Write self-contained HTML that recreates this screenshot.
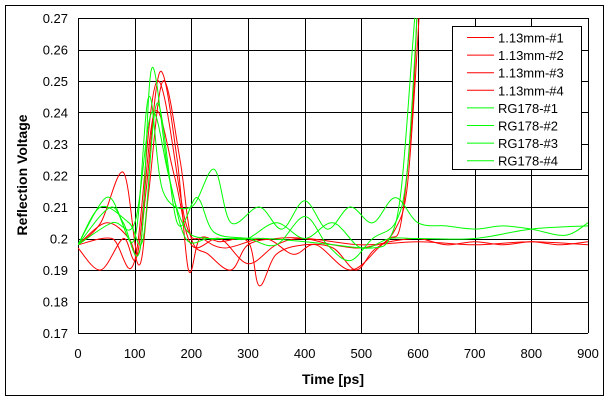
<!DOCTYPE html>
<html><head><meta charset="utf-8"><style>
body{margin:0;background:#fff;}
svg{display:block;font-family:"Liberation Sans",sans-serif;}
</style></head><body>
<svg id="s" width="609" height="401" viewBox="0 0 609 401">
<rect x="0" y="0" width="609" height="401" fill="#fff"/>
<rect x="5.5" y="5.5" width="598" height="390" fill="none" stroke="#000" stroke-width="1"/>
<defs><clipPath id="c"><rect x="78" y="18" width="510" height="315"/></clipPath></defs>
<g id="grid" stroke="#000" stroke-width="1"></g>
<g id="lbl" font-size="13" fill="#000"></g>
<g id="curves" clip-path="url(#c)" fill="none" stroke-width="1"></g>
<text x="333" y="384" font-size="14" font-weight="bold" text-anchor="middle">Time [ps]</text>
<text transform="translate(27,175) rotate(-90)" font-size="14" font-weight="bold" text-anchor="middle">Reflection Voltage</text>
<g id="leg"></g>
</svg>
<script>
var X=t=>78+t*510/900, Y=v=>333-(v-0.17)*3150;
var g=document.getElementById('grid'),l=document.getElementById('lbl'),ns='http://www.w3.org/2000/svg';
function el(p,tag,a,txt){var e=document.createElementNS(ns,tag);for(var k in a)e.setAttribute(k,a[k]);if(txt)e.textContent=txt;p.appendChild(e);return e;}
for(var i=0;i<=9;i++){var x=Math.round(X(i*100))+0.5;el(g,'line',{x1:x,x2:x,y1:18,y2:333});el(l,'text',{x:X(i*100),y:358,'text-anchor':'middle'},String(i*100));}
for(var j=0;j<=10;j++){var y=Math.round(Y(0.17+j*0.01))+0.5;el(g,'line',{x1:78,x2:588,y1:y,y2:y});var s=(0.17+j*0.01).toFixed(2);if(s==='0.20')s='0.2';el(l,'text',{x:68,y:Y(0.17+j*0.01)+5,'text-anchor':'end'},s);}
var R='#f00',G='#0f0';
var C=[
[R,[[0,.198],[40,.205],[80,.221],[105,.195],[120,.215],[145,.253],[175,.225],[195,.19],[215,.2],[250,.199],[300,.199],[320,.185],[350,.195],[400,.198],[450,.197],[490,.19],[520,.196],[550,.2],[570,.205],[590,.24],[600,.28]]],
[R,[[0,.198],[50,.205],[90,.2],[110,.192],[125,.215],[150,.25],[180,.225],[200,.2],[230,.195],[270,.19],[300,.198],[350,.2],[400,.2],[450,.198],[500,.197],[550,.199],[600,.2],[650,.198],[700,.199],[750,.198],[800,.199],[850,.198],[900,.199]]],
[R,[[0,.198],[60,.2],[100,.193],[140,.25],[190,.205],[220,.2],[260,.197],[330,.2],[380,.195],[420,.198],[480,.19],[530,.197],[560,.203],[580,.215],[595,.25],[605,.28]]],
[R,[[0,.197],[40,.19],[80,.2],[105,.195],[135,.24],[170,.22],[200,.198],[250,.2],[300,.192],[350,.198],[400,.2],[500,.198],[600,.199],[700,.198],[800,.199],[900,.198]]],
[G,[[0,.198],[50,.213],[80,.205],[110,.197],[130,.254],[160,.22],[190,.203],[230,.2],[260,.2],[330,.2],[400,.199],[450,.198],[520,.197],[550,.2],[570,.215],[590,.26],[598,.28]]],
[G,[[0,.198],[60,.21],[100,.2],[125,.245],[150,.215],[200,.21],[240,.222],[270,.205],[320,.21],[360,.203],[400,.212],[440,.203],[480,.21],[520,.205],[560,.213],[600,.205],[650,.204],[700,.203],[750,.204],[800,.203],[860,.201],[900,.205]]],
[G,[[0,.198],[40,.21],[90,.205],[115,.2],[140,.243],[175,.205],[210,.213],[240,.202],[300,.2],[350,.198],[400,.207],[440,.198],[480,.193],[520,.2],[560,.205],[580,.22],[595,.26],[600,.28]]],
[G,[[0,.198],[60,.205],[100,.205],[130,.24],[160,.22],[190,.2],[230,.2],[270,.2],[300,.2],[350,.205],[400,.2],[450,.205],[500,.197],[550,.2],[600,.2],[700,.2],[800,.203],[900,.204]]]
];
var cg=document.getElementById('curves');
C.forEach(function(c){var p=c[1].map(q=>[X(q[0]),Y(q[1])]);var d='M'+p[0][0].toFixed(1)+','+p[0][1].toFixed(1);
for(var i=0;i<p.length-1;i++){var a=p[Math.max(0,i-1)],b=p[i],e=p[i+1],f=p[Math.min(p.length-1,i+2)];
d+='C'+(b[0]+(e[0]-a[0])/6).toFixed(1)+','+(b[1]+(e[1]-a[1])/6).toFixed(1)+' '+(e[0]-(f[0]-b[0])/6).toFixed(1)+','+(e[1]-(f[1]-b[1])/6).toFixed(1)+' '+e[0].toFixed(1)+','+e[1].toFixed(1);}
el(cg,'path',{d:d,stroke:c[0]});});
var lg=document.getElementById('leg');
el(lg,'rect',{x:452.5,y:26.5,width:129,height:143,fill:'#fff',stroke:'#000'});
var names=['1.13mm-#1','1.13mm-#2','1.13mm-#3','1.13mm-#4','RG178-#1','RG178-#2','RG178-#3','RG178-#4'];
names.forEach(function(n,i){var y=37.5+i*17.6;el(lg,'line',{x1:467,x2:494,y1:y,y2:y,stroke:i<4?R:G});el(lg,'text',{x:498,y:y+5,'font-size':'13'},n);});
</script>
</body></html>
